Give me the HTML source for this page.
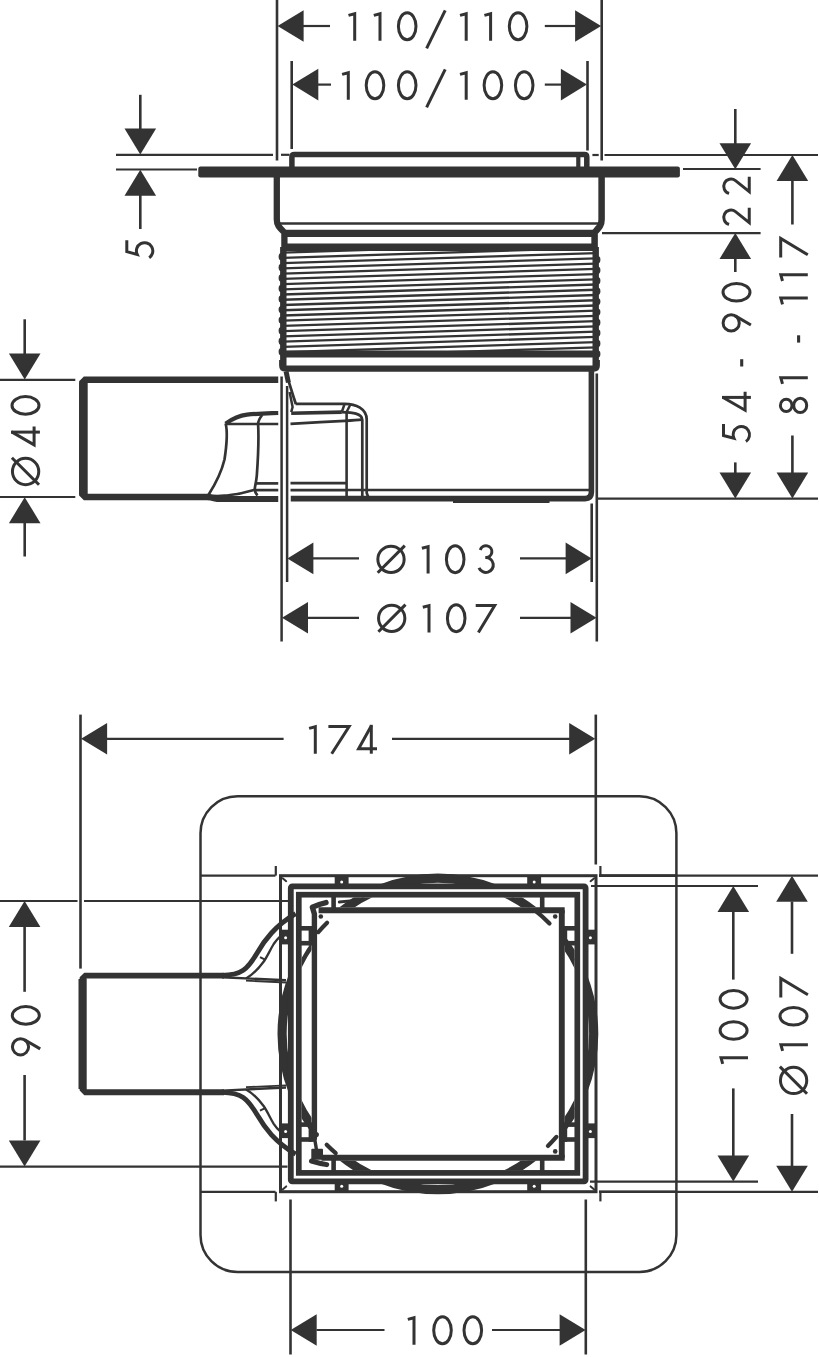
<!DOCTYPE html>
<html><head><meta charset="utf-8"><title>Drawing</title>
<style>html,body{margin:0;padding:0;background:#fff;font-family:"Liberation Sans",sans-serif;}svg{display:block}</style>
</head><body>
<svg width="819" height="1357" viewBox="0 0 819 1357" stroke="#333" fill="none">
<rect x="0" y="0" width="819" height="1357" fill="#fff" stroke="none"/>
<line x1="277.00" y1="0.00" x2="277.00" y2="160.50" stroke-width="2.6" stroke-linecap="butt" />
<line x1="601.70" y1="0.00" x2="601.70" y2="160.50" stroke-width="2.6" stroke-linecap="butt" />
<line x1="291.70" y1="61.00" x2="291.70" y2="149.00" stroke-width="2.6" stroke-linecap="butt" />
<line x1="587.50" y1="61.00" x2="587.50" y2="150.50" stroke-width="2.6" stroke-linecap="butt" />
<polygon points="277.60,26.00 303.60,10.20 303.60,41.80" fill="#333" stroke="none"/>
<line x1="303.00" y1="26.00" x2="330.00" y2="26.00" stroke-width="2.2" stroke-linecap="butt" />
<line x1="544.80" y1="26.00" x2="576.00" y2="26.00" stroke-width="2.2" stroke-linecap="butt" />
<polygon points="601.10,26.00 575.10,10.20 575.10,41.80" fill="#333" stroke="none"/>
<polygon points="292.30,84.60 318.30,68.80 318.30,100.40" fill="#333" stroke="none"/>
<line x1="318.00" y1="84.60" x2="331.00" y2="84.60" stroke-width="2.2" stroke-linecap="butt" />
<line x1="544.80" y1="84.60" x2="562.00" y2="84.60" stroke-width="2.2" stroke-linecap="butt" />
<polygon points="586.90,84.60 560.90,68.80 560.90,100.40" fill="#333" stroke="none"/>
<g transform="translate(0.00,40.70) rotate(0)" stroke-width="3.0" fill="none" stroke-linejoin="miter" stroke-linecap="butt">
<g transform="translate(348.70,0)"><path d="M-0.2,-25.3 L6,-27 V0"/></g>
<g transform="translate(374.00,0)"><path d="M-0.2,-25.3 L6,-27 V0"/></g>
<g transform="translate(398.20,0)"><ellipse cx="9.0" cy="-14.4" rx="8.8" ry="13.5"/></g>
<g transform="translate(426.90,0)"><path d="M-0.3,7.6 L18.3,-30.3"/></g>
<g transform="translate(460.20,0)"><path d="M-0.2,-25.3 L6,-27 V0"/></g>
<g transform="translate(484.60,0)"><path d="M-0.2,-25.3 L6,-27 V0"/></g>
<g transform="translate(509.10,0)"><ellipse cx="9.0" cy="-14.4" rx="8.8" ry="13.5"/></g>
</g>
<g transform="translate(0.00,99.70) rotate(0)" stroke-width="3.0" fill="none" stroke-linejoin="miter" stroke-linecap="butt">
<g transform="translate(342.30,0)"><path d="M-0.2,-25.3 L6,-27 V0"/></g>
<g transform="translate(366.00,0)"><ellipse cx="9.0" cy="-14.4" rx="8.8" ry="13.5"/></g>
<g transform="translate(398.20,0)"><ellipse cx="9.0" cy="-14.4" rx="8.8" ry="13.5"/></g>
<g transform="translate(426.90,0)"><path d="M-0.3,7.6 L18.3,-30.3"/></g>
<g transform="translate(460.20,0)"><path d="M-0.2,-25.3 L6,-27 V0"/></g>
<g transform="translate(483.90,0)"><ellipse cx="9.0" cy="-14.4" rx="8.8" ry="13.5"/></g>
<g transform="translate(515.20,0)"><ellipse cx="9.0" cy="-14.4" rx="8.8" ry="13.5"/></g>
</g>
<line x1="116.00" y1="154.80" x2="273.00" y2="154.80" stroke-width="2.2" stroke-linecap="butt" />
<line x1="281.00" y1="154.80" x2="289.50" y2="154.80" stroke-width="2.2" stroke-linecap="butt" />
<line x1="116.00" y1="169.50" x2="197.00" y2="169.50" stroke-width="2.2" stroke-linecap="butt" />
<line x1="140.30" y1="94.80" x2="140.30" y2="129.00" stroke-width="2.6" stroke-linecap="butt" />
<polygon points="140.30,154.60 124.50,128.60 156.10,128.60" fill="#333" stroke="none"/>
<polygon points="140.30,169.70 124.50,195.70 156.10,195.70" fill="#333" stroke="none"/>
<line x1="140.30" y1="195.00" x2="140.30" y2="229.00" stroke-width="2.6" stroke-linecap="butt" />
<g transform="translate(154.20,259.30) rotate(-90)" stroke-width="3.0" fill="none" stroke-linejoin="miter" stroke-linecap="butt">
<g transform="translate(0.00,0)"><path d="M19.1,-27.4 H7.6 L4.9,-17 A8.2,8.2 0 1 1 1.6,-5.0"/></g>
</g>
<path d="M291.9,168 V157 Q291.9,154.6 294.5,154.6 H584.5 Q586.8,154.6 586.8,157 V168" stroke-width="5.5" fill="none" stroke-linecap="butt" stroke-linejoin="miter" />
<line x1="578.30" y1="155.00" x2="578.30" y2="168.00" stroke-width="4.2" stroke-linecap="butt" />
<rect x="198.3" y="166.5" width="481.59999999999997" height="10.9" rx="2.2" fill="#333" stroke="none"/>
<path d="M276.8,175 V219.5 C276.8,225 279,227 284.4,232.5 V250" stroke-width="6.3" fill="none" stroke-linecap="butt" stroke-linejoin="miter" />
<path d="M601.6,175 V219.5 C601.6,225 599.5,227 594.6,232.5 V250" stroke-width="6.5" fill="none" stroke-linecap="butt" stroke-linejoin="miter" />
<line x1="279.00" y1="223.60" x2="600.00" y2="223.60" stroke-width="2.5" stroke-linecap="butt" />
<line x1="283.00" y1="233.30" x2="596.00" y2="233.30" stroke-width="7.2" stroke-linecap="butt" />
<line x1="283.00" y1="247.30" x2="596.00" y2="247.30" stroke-width="7.6" stroke-linecap="butt" />
<clipPath id="thr"><rect x="283" y="250.5" width="313" height="100.5"/></clipPath>
<g clip-path="url(#thr)">
<line x1="283.00" y1="247.36" x2="596.00" y2="237.36" stroke-width="2.3" stroke-linecap="butt" />
<line x1="283.00" y1="252.60" x2="596.00" y2="242.60" stroke-width="2.3" stroke-linecap="butt" />
<line x1="283.00" y1="257.84" x2="596.00" y2="247.84" stroke-width="2.3" stroke-linecap="butt" />
<line x1="283.00" y1="263.08" x2="596.00" y2="253.08" stroke-width="2.3" stroke-linecap="butt" />
<line x1="283.00" y1="268.32" x2="596.00" y2="258.32" stroke-width="2.3" stroke-linecap="butt" />
<line x1="283.00" y1="273.56" x2="596.00" y2="263.56" stroke-width="2.3" stroke-linecap="butt" />
<line x1="283.00" y1="278.80" x2="596.00" y2="268.80" stroke-width="2.3" stroke-linecap="butt" />
<line x1="283.00" y1="284.04" x2="596.00" y2="274.04" stroke-width="2.3" stroke-linecap="butt" />
<line x1="283.00" y1="289.28" x2="596.00" y2="279.28" stroke-width="2.3" stroke-linecap="butt" />
<line x1="283.00" y1="294.52" x2="596.00" y2="284.52" stroke-width="2.3" stroke-linecap="butt" />
<line x1="283.00" y1="299.76" x2="596.00" y2="289.76" stroke-width="2.3" stroke-linecap="butt" />
<line x1="283.00" y1="305.00" x2="596.00" y2="295.00" stroke-width="2.3" stroke-linecap="butt" />
<line x1="283.00" y1="310.24" x2="596.00" y2="300.24" stroke-width="2.3" stroke-linecap="butt" />
<line x1="283.00" y1="315.48" x2="596.00" y2="305.48" stroke-width="2.3" stroke-linecap="butt" />
<line x1="283.00" y1="320.72" x2="596.00" y2="310.72" stroke-width="2.3" stroke-linecap="butt" />
<line x1="283.00" y1="325.96" x2="596.00" y2="315.96" stroke-width="2.3" stroke-linecap="butt" />
<line x1="283.00" y1="331.20" x2="596.00" y2="321.20" stroke-width="2.3" stroke-linecap="butt" />
<line x1="283.00" y1="336.44" x2="596.00" y2="326.44" stroke-width="2.3" stroke-linecap="butt" />
<line x1="283.00" y1="341.68" x2="596.00" y2="331.68" stroke-width="2.3" stroke-linecap="butt" />
<line x1="283.00" y1="346.92" x2="596.00" y2="336.92" stroke-width="2.3" stroke-linecap="butt" />
<line x1="283.00" y1="352.16" x2="596.00" y2="342.16" stroke-width="2.3" stroke-linecap="butt" />
<line x1="283.00" y1="357.40" x2="596.00" y2="347.40" stroke-width="2.3" stroke-linecap="butt" />
<line x1="283.00" y1="362.64" x2="596.00" y2="352.64" stroke-width="2.3" stroke-linecap="butt" />
<line x1="283.00" y1="367.88" x2="596.00" y2="357.88" stroke-width="2.3" stroke-linecap="butt" />
</g>
<line x1="283.30" y1="247.00" x2="283.30" y2="366.00" stroke-width="6.4" stroke-linecap="butt" />
<line x1="595.70" y1="247.00" x2="595.70" y2="366.00" stroke-width="6.4" stroke-linecap="butt" />
<ellipse cx="281.3" cy="256.8" rx="2.7" ry="3.7" fill="#333" stroke="none"/>
<ellipse cx="597.7" cy="259.8" rx="2.7" ry="3.7" fill="#333" stroke="none"/>
<ellipse cx="281.3" cy="267.4" rx="2.7" ry="3.7" fill="#333" stroke="none"/>
<ellipse cx="597.7" cy="270.2" rx="2.7" ry="3.7" fill="#333" stroke="none"/>
<ellipse cx="281.3" cy="277.9" rx="2.7" ry="3.7" fill="#333" stroke="none"/>
<ellipse cx="597.7" cy="280.7" rx="2.7" ry="3.7" fill="#333" stroke="none"/>
<ellipse cx="281.3" cy="288.4" rx="2.7" ry="3.7" fill="#333" stroke="none"/>
<ellipse cx="597.7" cy="291.2" rx="2.7" ry="3.7" fill="#333" stroke="none"/>
<ellipse cx="281.3" cy="299.0" rx="2.7" ry="3.7" fill="#333" stroke="none"/>
<ellipse cx="597.7" cy="301.6" rx="2.7" ry="3.7" fill="#333" stroke="none"/>
<ellipse cx="281.3" cy="309.6" rx="2.7" ry="3.7" fill="#333" stroke="none"/>
<ellipse cx="597.7" cy="312.1" rx="2.7" ry="3.7" fill="#333" stroke="none"/>
<ellipse cx="281.3" cy="320.1" rx="2.7" ry="3.7" fill="#333" stroke="none"/>
<ellipse cx="597.7" cy="322.5" rx="2.7" ry="3.7" fill="#333" stroke="none"/>
<ellipse cx="281.3" cy="330.7" rx="2.7" ry="3.7" fill="#333" stroke="none"/>
<ellipse cx="597.7" cy="332.9" rx="2.7" ry="3.7" fill="#333" stroke="none"/>
<ellipse cx="281.3" cy="341.2" rx="2.7" ry="3.7" fill="#333" stroke="none"/>
<ellipse cx="597.7" cy="343.4" rx="2.7" ry="3.7" fill="#333" stroke="none"/>
<ellipse cx="281.3" cy="351.8" rx="2.7" ry="3.7" fill="#333" stroke="none"/>
<ellipse cx="597.7" cy="353.9" rx="2.7" ry="3.7" fill="#333" stroke="none"/>
<line x1="283.00" y1="354.00" x2="596.00" y2="354.00" stroke-width="7" stroke-linecap="butt" />
<path d="M282.2,360 V365.6 Q282.2,368.7 285.5,368.7 H593.5 Q596.8,368.7 596.8,365.6 V360" stroke-width="6.2" fill="none" stroke-linecap="butt" stroke-linejoin="miter" />
<path d="M591.4,369 V492 Q591.4,498.6 585,498.6 H290.6" stroke-width="5.6" fill="none" stroke-linecap="butt" stroke-linejoin="miter" />
<line x1="346.50" y1="490.10" x2="590.00" y2="490.10" stroke-width="2.5" stroke-linecap="butt" />
<line x1="453.00" y1="501.60" x2="549.50" y2="501.60" stroke-width="3" stroke-linecap="butt" />
<path d="M278.3,379.8 H85.2 L82.3,382.7 V494.1 L85.2,497 H209" stroke-width="6.4" fill="none" stroke-linecap="butt" stroke-linejoin="miter" />
<line x1="83.40" y1="382.40" x2="83.40" y2="494.40" stroke-width="8.6" stroke-linecap="butt" />
<path d="M207,497.1 C211,497.1 213,498.9 217,498.9 H278.3" stroke-width="6" fill="none" stroke-linecap="butt" stroke-linejoin="miter" />
<path d="M225.6,423.6 C232,419 238,415.6 247,414.6 C258,413.6 268,413.4 278.3,413" stroke-width="4.2" fill="none" stroke-linecap="butt" stroke-linejoin="miter" />
<line x1="225.60" y1="423.90" x2="278.30" y2="423.90" stroke-width="2.5" stroke-linecap="butt" />
<path d="M225.6,423.5 C227.6,431 227.5,440 224.5,459.5 C222,470 218,480 208.4,495" stroke-width="2.7" fill="none" stroke-linecap="butt" stroke-linejoin="miter" />
<path d="M262.2,415 C259,419 258.1,421 258.1,424 C258.8,436 258.8,448 256.8,475.6 C256,484 254.6,487 254.8,489.3 C255,492 256,494 257.5,495.5" stroke-width="2.7" fill="none" stroke-linecap="butt" stroke-linejoin="miter" />
<path d="M208.4,495 C214,496.6 220,496.2 224.5,495.7 C230,495.2 236,494.2 239.3,493.7 L254.8,489.7" stroke-width="2.7" fill="none" stroke-linecap="butt" stroke-linejoin="miter" />
<line x1="255.40" y1="483.40" x2="278.30" y2="483.40" stroke-width="2.7" stroke-linecap="butt" />
<line x1="255.40" y1="490.10" x2="278.30" y2="490.10" stroke-width="2.7" stroke-linecap="butt" />
<rect x="278.8" y="373" width="11.6" height="131" fill="#fff" stroke="none"/>
<line x1="281.60" y1="376.50" x2="281.60" y2="641.50" stroke-width="2.5" stroke-linecap="butt" />
<line x1="287.10" y1="386.00" x2="287.10" y2="582.00" stroke-width="2.5" stroke-linecap="butt" />
<line x1="596.80" y1="373.50" x2="596.80" y2="641.50" stroke-width="2.6" stroke-linecap="butt" />
<line x1="591.70" y1="503.50" x2="591.70" y2="582.00" stroke-width="2.6" stroke-linecap="butt" />
<path d="M286.1,371.5 L288.4,382.5" stroke-width="5" fill="none" stroke-linecap="butt" stroke-linejoin="miter" />
<path d="M287.6,378 L295.8,404" stroke-width="2.7" fill="none" stroke-linecap="butt" stroke-linejoin="miter" />
<path d="M289.6,392 L292.6,407 L291.2,412" stroke-width="2.5" fill="none" stroke-linecap="butt" stroke-linejoin="miter" />
<path d="M295.5,403.8 H344.7 C356,403.8 366.7,409 366.7,419.5 V493 L368,496.5" stroke-width="2.7" fill="none" stroke-linecap="butt" stroke-linejoin="miter" />
<path d="M291.2,413.3 L341.8,412.1" stroke-width="3.6" fill="none" stroke-linecap="butt" stroke-linejoin="miter" />
<path d="M341.8,412.1 C352,412.5 362.3,413 362.3,420 V496" stroke-width="2.7" fill="none" stroke-linecap="butt" stroke-linejoin="miter" />
<line x1="344.70" y1="403.70" x2="341.80" y2="412.00" stroke-width="2.5" stroke-linecap="butt" />
<line x1="350.30" y1="404.70" x2="346.20" y2="412.70" stroke-width="2.5" stroke-linecap="butt" />
<path d="M290.5,423.8 C305,423 328.6,421.6 345,420.8 C352,420.4 358,420 362,419.6" stroke-width="2.7" fill="none" stroke-linecap="butt" stroke-linejoin="miter" />
<line x1="346.60" y1="412.70" x2="346.60" y2="496.00" stroke-width="2.6" stroke-linecap="butt" />
<line x1="290.50" y1="483.20" x2="346.60" y2="483.20" stroke-width="2.7" stroke-linecap="butt" />
<line x1="290.50" y1="490.10" x2="346.60" y2="490.10" stroke-width="2.7" stroke-linecap="butt" />
<polygon points="287.40,558.40 313.40,542.60 313.40,574.20" fill="#333" stroke="none"/>
<line x1="313.00" y1="558.40" x2="359.00" y2="558.40" stroke-width="2.2" stroke-linecap="butt" />
<line x1="520.00" y1="558.40" x2="566.00" y2="558.40" stroke-width="2.2" stroke-linecap="butt" />
<polygon points="591.60,558.40 565.60,542.60 565.60,574.20" fill="#333" stroke="none"/>
<polygon points="282.00,617.80 308.00,602.00 308.00,633.60" fill="#333" stroke="none"/>
<line x1="307.50" y1="617.80" x2="359.00" y2="617.80" stroke-width="2.2" stroke-linecap="butt" />
<line x1="520.00" y1="617.80" x2="571.00" y2="617.80" stroke-width="2.2" stroke-linecap="butt" />
<polygon points="596.50,617.80 570.50,602.00 570.50,633.60" fill="#333" stroke="none"/>
<g transform="translate(0.00,573.60) rotate(0)" stroke-width="3.0" fill="none" stroke-linejoin="miter" stroke-linecap="butt">
<g transform="translate(377.40,0)"><circle cx="13.6" cy="-14.3" r="13.15"/><path d="M0.3,-0.9 L27.4,-28"/></g>
<g transform="translate(422.10,0)"><path d="M-0.2,-25.3 L6,-27 V0"/></g>
<g transform="translate(446.20,0)"><ellipse cx="9.0" cy="-14.4" rx="8.8" ry="13.5"/></g>
<g transform="translate(477.10,0)"><path d="M3.2,-23.6 A5.9,5.9 0 1 1 8.3,-16.1 A7.45,7.45 0 1 1 1.9,-5.7"/></g>
</g>
<g transform="translate(0.00,632.60) rotate(0)" stroke-width="3.0" fill="none" stroke-linejoin="miter" stroke-linecap="butt">
<g transform="translate(378.10,0)"><circle cx="13.6" cy="-14.3" r="13.15"/><path d="M0.3,-0.9 L27.4,-28"/></g>
<g transform="translate(423.00,0)"><path d="M-0.2,-25.3 L6,-27 V0"/></g>
<g transform="translate(447.20,0)"><ellipse cx="9.0" cy="-14.4" rx="8.8" ry="13.5"/></g>
<g transform="translate(475.70,0)"><path d="M0,-27.1 H19.0 L2.7,0"/></g>
</g>
<line x1="0.00" y1="379.80" x2="75.30" y2="379.80" stroke-width="2.2" stroke-linecap="butt" />
<line x1="0.00" y1="497.00" x2="75.30" y2="497.00" stroke-width="2.2" stroke-linecap="butt" />
<line x1="24.70" y1="319.30" x2="24.70" y2="354.00" stroke-width="2.6" stroke-linecap="butt" />
<polygon points="24.70,379.60 8.90,353.60 40.50,353.60" fill="#333" stroke="none"/>
<polygon points="24.70,497.20 8.90,523.20 40.50,523.20" fill="#333" stroke="none"/>
<line x1="24.70" y1="523.00" x2="24.70" y2="556.50" stroke-width="2.6" stroke-linecap="butt" />
<g transform="translate(39.90,485.10) rotate(-90)" stroke-width="3.0" fill="none" stroke-linejoin="miter" stroke-linecap="butt">
<g transform="translate(0.00,0)"><circle cx="13.6" cy="-14.3" r="13.15"/><path d="M0.3,-0.9 L27.4,-28"/></g>
<g transform="translate(37.30,0)"><path d="M21.3,-5.8 H2.9 L15.9,-28.2"/><path d="M15.7,0 V-28.9"/></g>
<g transform="translate(70.70,0)"><ellipse cx="9.0" cy="-14.4" rx="8.8" ry="13.5"/></g>
</g>
<line x1="592.40" y1="155.00" x2="598.70" y2="155.00" stroke-width="2.2" stroke-linecap="butt" />
<line x1="604.50" y1="155.00" x2="818.00" y2="155.00" stroke-width="2.2" stroke-linecap="butt" />
<line x1="683.00" y1="169.00" x2="760.60" y2="169.00" stroke-width="2.2" stroke-linecap="butt" />
<line x1="602.00" y1="233.20" x2="760.60" y2="233.20" stroke-width="2.2" stroke-linecap="butt" />
<line x1="597.00" y1="498.60" x2="818.00" y2="498.60" stroke-width="2.2" stroke-linecap="butt" />
<line x1="735.30" y1="109.00" x2="735.30" y2="144.00" stroke-width="2.6" stroke-linecap="butt" />
<polygon points="735.30,169.20 719.50,143.20 751.10,143.20" fill="#333" stroke="none"/>
<polygon points="735.30,233.00 719.50,259.00 751.10,259.00" fill="#333" stroke="none"/>
<line x1="735.30" y1="258.50" x2="735.30" y2="272.00" stroke-width="2.6" stroke-linecap="butt" />
<line x1="735.30" y1="462.40" x2="735.30" y2="473.50" stroke-width="2.6" stroke-linecap="butt" />
<polygon points="735.30,498.60 719.50,472.60 751.10,472.60" fill="#333" stroke="none"/>
<polygon points="792.40,155.00 776.60,181.00 808.20,181.00" fill="#333" stroke="none"/>
<line x1="792.40" y1="180.50" x2="792.40" y2="224.50" stroke-width="2.6" stroke-linecap="butt" />
<line x1="792.40" y1="435.50" x2="792.40" y2="473.50" stroke-width="2.6" stroke-linecap="butt" />
<polygon points="792.40,498.60 776.60,472.60 808.20,472.60" fill="#333" stroke="none"/>
<g transform="translate(750.70,226.00) rotate(-90)" stroke-width="3.0" fill="none" stroke-linejoin="miter" stroke-linecap="butt">
<g transform="translate(0.00,0)"><path d="M1.6,-21.6 A7.3,7.3 0 1 1 14.4,-15.2 L3.4,-1.45 H18.3"/></g>
<g transform="translate(31.00,0)"><path d="M1.6,-21.6 A7.3,7.3 0 1 1 14.4,-15.2 L3.4,-1.45 H18.3"/></g>
</g>
<g transform="translate(750.90,443.10) rotate(-90)" stroke-width="3.0" fill="none" stroke-linejoin="miter" stroke-linecap="butt">
<g transform="translate(0.00,0)"><path d="M19.1,-27.4 H7.6 L4.9,-17 A8.2,8.2 0 1 1 1.6,-5.0"/></g>
<g transform="translate(30.00,0)"><path d="M21.3,-5.8 H2.9 L15.9,-28.2"/><path d="M15.7,0 V-28.9"/></g>
<g transform="translate(76.60,0)"><path d="M0,-9.2 H7.3" stroke-width="3.1"/></g>
<g transform="translate(112.10,0)"><circle cx="8.1" cy="-19.7" r="8.1"/><path d="M15.1,-15.65 L6.0,0"/></g>
<g transform="translate(141.80,0)"><ellipse cx="9.0" cy="-14.4" rx="8.8" ry="13.5"/></g>
</g>
<g transform="translate(807.80,414.50) rotate(-90)" stroke-width="3.0" fill="none" stroke-linejoin="miter" stroke-linecap="butt">
<g transform="translate(0.80,0)"><ellipse cx="8.3" cy="-21.6" rx="6.2" ry="5.8"/><ellipse cx="8.3" cy="-7.6" rx="7.1" ry="6.5"/></g>
<g transform="translate(30.80,0)"><path d="M-0.2,-25.3 L6,-27 V0"/></g>
<g transform="translate(71.90,0)"><path d="M0,-9.2 H7.3" stroke-width="3.1"/></g>
<g transform="translate(110.40,0)"><path d="M-0.2,-25.3 L6,-27 V0"/></g>
<g transform="translate(133.70,0)"><path d="M-0.2,-25.3 L6,-27 V0"/></g>
<g transform="translate(157.00,0)"><path d="M0,-27.1 H19.0 L2.7,0"/></g>
</g>
<line x1="80.50" y1="714.60" x2="80.50" y2="968.60" stroke-width="2.6" stroke-linecap="butt" />
<line x1="595.80" y1="714.60" x2="595.80" y2="864.50" stroke-width="2.6" stroke-linecap="butt" />
<polygon points="81.10,738.80 107.10,723.00 107.10,754.60" fill="#333" stroke="none"/>
<line x1="107.00" y1="738.80" x2="283.60" y2="738.80" stroke-width="2.2" stroke-linecap="butt" />
<line x1="392.00" y1="738.80" x2="570.00" y2="738.80" stroke-width="2.2" stroke-linecap="butt" />
<polygon points="595.20,738.80 569.20,723.00 569.20,754.60" fill="#333" stroke="none"/>
<g transform="translate(0.00,753.70) rotate(0)" stroke-width="3.0" fill="none" stroke-linejoin="miter" stroke-linecap="butt">
<g transform="translate(309.30,0)"><path d="M-0.2,-25.3 L6,-27 V0"/></g>
<g transform="translate(328.40,0)"><path d="M0,-27.1 H20.7 L3.3,0"/></g>
<g transform="translate(356.00,0)"><path d="M21.0,-4.9 H2.6 L15.5,-28.2"/><path d="M15.3,0 V-28.9"/></g>
</g>
<rect x="200.5" y="796.2" width="475.9" height="475.79999999999995" rx="37" ry="37" stroke-width="2.5"/>
<line x1="200.50" y1="875.60" x2="275.50" y2="875.60" stroke-width="2.2" stroke-linecap="butt" />
<line x1="599.00" y1="875.60" x2="818.00" y2="875.60" stroke-width="2.2" stroke-linecap="butt" />
<line x1="599.00" y1="875.60" x2="676.40" y2="875.60" stroke-width="2.6" stroke-linecap="butt" />
<line x1="275.80" y1="875.60" x2="275.80" y2="866.00" stroke-width="2.2" stroke-linecap="butt" />
<line x1="600.40" y1="875.60" x2="600.40" y2="866.00" stroke-width="2.2" stroke-linecap="butt" />
<line x1="200.50" y1="1191.80" x2="275.50" y2="1191.80" stroke-width="2.2" stroke-linecap="butt" />
<line x1="599.00" y1="1191.80" x2="818.00" y2="1191.80" stroke-width="2.2" stroke-linecap="butt" />
<line x1="599.00" y1="1191.80" x2="676.40" y2="1191.80" stroke-width="2.6" stroke-linecap="butt" />
<line x1="275.80" y1="1191.80" x2="275.80" y2="1201.40" stroke-width="2.2" stroke-linecap="butt" />
<line x1="600.40" y1="1191.80" x2="600.40" y2="1201.40" stroke-width="2.2" stroke-linecap="butt" />
<line x1="591.00" y1="886.00" x2="758.00" y2="886.00" stroke-width="2.2" stroke-linecap="butt" />
<line x1="590.00" y1="1181.70" x2="758.00" y2="1181.70" stroke-width="2.2" stroke-linecap="butt" />
<line x1="0.00" y1="901.00" x2="77.50" y2="901.00" stroke-width="2.2" stroke-linecap="butt" />
<line x1="84.00" y1="901.00" x2="288.00" y2="901.00" stroke-width="2.2" stroke-linecap="butt" />
<line x1="0.00" y1="1166.60" x2="287.50" y2="1166.60" stroke-width="2.2" stroke-linecap="butt" />
<line x1="24.60" y1="927.00" x2="24.60" y2="991.80" stroke-width="2.6" stroke-linecap="butt" />
<polygon points="24.60,901.10 8.80,927.10 40.40,927.10" fill="#333" stroke="none"/>
<line x1="24.60" y1="1075.00" x2="24.60" y2="1140.50" stroke-width="2.6" stroke-linecap="butt" />
<polygon points="24.60,1166.50 8.80,1140.50 40.40,1140.50" fill="#333" stroke="none"/>
<g transform="translate(40.20,1056.50) rotate(-90)" stroke-width="3.0" fill="none" stroke-linejoin="miter" stroke-linecap="butt">
<g transform="translate(1.60,0)"><circle cx="8.1" cy="-19.7" r="8.1"/><path d="M15.1,-15.65 L6.0,0"/></g>
<g transform="translate(32.10,0)"><ellipse cx="9.0" cy="-14.4" rx="8.8" ry="13.5"/></g>
</g>
<polygon points="733.30,886.10 717.50,912.10 749.10,912.10" fill="#333" stroke="none"/>
<line x1="733.30" y1="912.00" x2="733.30" y2="979.60" stroke-width="2.6" stroke-linecap="butt" />
<line x1="733.30" y1="1088.40" x2="733.30" y2="1156.00" stroke-width="2.6" stroke-linecap="butt" />
<polygon points="733.30,1181.60 717.50,1155.60 749.10,1155.60" fill="#333" stroke="none"/>
<polygon points="792.00,875.70 776.20,901.70 807.80,901.70" fill="#333" stroke="none"/>
<line x1="792.00" y1="901.50" x2="792.00" y2="953.80" stroke-width="2.6" stroke-linecap="butt" />
<line x1="792.00" y1="1114.00" x2="792.00" y2="1166.00" stroke-width="2.6" stroke-linecap="butt" />
<polygon points="792.00,1191.70 776.20,1165.70 807.80,1165.70" fill="#333" stroke="none"/>
<g transform="translate(748.00,1064.70) rotate(-90)" stroke-width="3.0" fill="none" stroke-linejoin="miter" stroke-linecap="butt">
<g transform="translate(1.00,0)"><path d="M-0.2,-25.3 L6,-27 V0"/></g>
<g transform="translate(25.15,0)"><ellipse cx="9.0" cy="-14.4" rx="8.8" ry="13.5"/></g>
<g transform="translate(56.35,0)"><ellipse cx="9.0" cy="-14.4" rx="8.8" ry="13.5"/></g>
</g>
<g transform="translate(807.90,1095.70) rotate(-90)" stroke-width="3.0" fill="none" stroke-linejoin="miter" stroke-linecap="butt">
<g transform="translate(1.65,0)"><circle cx="13.6" cy="-14.3" r="13.15"/><path d="M0.3,-0.9 L27.4,-28"/></g>
<g transform="translate(45.00,0)"><path d="M-0.2,-25.3 L6,-27 V0"/></g>
<g transform="translate(70.45,0)"><ellipse cx="9.0" cy="-14.4" rx="8.8" ry="13.5"/></g>
<g transform="translate(98.20,0)"><path d="M0,-27.1 H19.0 L2.7,0"/></g>
</g>
<line x1="290.50" y1="1199.50" x2="290.50" y2="1354.50" stroke-width="2.6" stroke-linecap="butt" />
<line x1="585.80" y1="1199.50" x2="585.80" y2="1354.50" stroke-width="2.6" stroke-linecap="butt" />
<polygon points="290.70,1330.00 316.70,1314.20 316.70,1345.80" fill="#333" stroke="none"/>
<line x1="316.50" y1="1330.00" x2="384.50" y2="1330.00" stroke-width="2.2" stroke-linecap="butt" />
<line x1="492.00" y1="1330.00" x2="560.00" y2="1330.00" stroke-width="2.2" stroke-linecap="butt" />
<polygon points="585.60,1330.00 559.60,1314.20 559.60,1345.80" fill="#333" stroke="none"/>
<g transform="translate(0.00,1344.70) rotate(0)" stroke-width="3.0" fill="none" stroke-linejoin="miter" stroke-linecap="butt">
<g transform="translate(408.00,0)"><path d="M-0.2,-25.3 L6,-27 V0"/></g>
<g transform="translate(433.50,0)"><ellipse cx="9.0" cy="-14.4" rx="8.8" ry="13.5"/></g>
<g transform="translate(463.80,0)"><ellipse cx="9.0" cy="-14.4" rx="8.8" ry="13.5"/></g>
</g>
<path d="M224,975.6 H85.5 L82.6,978.5 V1089.3 L85.5,1092.2 H224" stroke-width="5.9" fill="none" stroke-linecap="butt" stroke-linejoin="miter" />
<line x1="82.60" y1="979.00" x2="82.60" y2="1089.00" stroke-width="8.2" stroke-linecap="butt" />
<path d="M222.0,975.4 C233.0,975.2 239.0,973.2 243.2,970.3 C248.2,966.8 253.0,960.0 257.3,952.7 C261.0,946.3 266.0,939.0 271.5,933.0 C277.0,927.0 285.0,920.0 295.7,913.7" stroke-width="4.9" fill="none" stroke-linecap="butt" stroke-linejoin="miter" />
<path d="M246.0,978.4 C252.5,975.0 259.0,968.0 263.8,961.5 C267.0,957.0 270.0,950.0 273.7,944.0 C275.5,941.3 277.0,939.3 280.0,936.6" stroke-width="2.3" fill="none" stroke-linecap="butt" stroke-linejoin="miter" />
<line x1="260.00" y1="957.10" x2="264.60" y2="959.40" stroke-width="2" stroke-linecap="butt" />
<path d="M222.0,977.2 L286.0,980.3" stroke-width="2.4" fill="none" stroke-linecap="butt" stroke-linejoin="miter" />
<path d="M246.0,980.6 L286.0,982.5" stroke-width="1.8" fill="none" stroke-linecap="butt" stroke-linejoin="miter" />
<path d="M222.0,1092.4 C233.0,1092.6 239.0,1094.6 243.2,1097.5 C248.2,1101.0 253.0,1107.8 257.3,1115.1 C261.0,1121.5 266.0,1128.8 271.5,1134.8 C277.0,1140.8 285.0,1147.8 295.7,1154.1" stroke-width="4.9" fill="none" stroke-linecap="butt" stroke-linejoin="miter" />
<path d="M246.0,1089.4 C252.5,1092.8 259.0,1099.8 263.8,1106.3 C267.0,1110.8 270.0,1117.8 273.7,1123.8 C275.5,1126.5 277.0,1128.5 280.0,1131.2" stroke-width="2.3" fill="none" stroke-linecap="butt" stroke-linejoin="miter" />
<line x1="260.00" y1="1110.70" x2="264.60" y2="1108.40" stroke-width="2" stroke-linecap="butt" />
<path d="M222.0,1090.6 L286.0,1087.5" stroke-width="2.4" fill="none" stroke-linecap="butt" stroke-linejoin="miter" />
<path d="M246.0,1087.2 L286.0,1085.3" stroke-width="1.8" fill="none" stroke-linecap="butt" stroke-linejoin="miter" />
<clipPath id="outsq"><path clip-rule="evenodd" d="M0,690 H819 V1357 H0 Z M314.5,910.2 V1157.5 H561.5 V910.2 Z"/></clipPath>
<clipPath id="outfr"><path clip-rule="evenodd" d="M0,690 H819 V1357 H0 Z M290.8,886.5 V1181.2 H585.7 V886.5 Z"/></clipPath>
<clipPath id="gapall"><path clip-rule="evenodd" d="M301.65,897.55 H574.45 V1170.1 H301.65 Z M311.5,907.3 V1160.7 H564.7 V907.3 Z"/></clipPath>
<g clip-path="url(#gapall)"><circle cx="437.9" cy="1033.9" r="153.8" stroke-width="4.5"/></g>
<g clip-path="url(#outfr)"><circle cx="437.9" cy="1033.9" r="155.8" stroke-width="9.2"/></g>
<clipPath id="gap"><rect x="301.65" y="897.55" width="272.8" height="9.8"/><rect x="301.65" y="1160.6" width="272.8" height="9.5"/><rect x="301.65" y="1033" width="9.9" height="128"/><rect x="564.6" y="907" width="9.9" height="254"/></clipPath>
<g clip-path="url(#gap)"><circle cx="437.9" cy="1033.9" r="157.8" stroke-width="5.2"/></g>
<path d="M318.3,932.1 A157,157 0 0 1 327.1,922.7" stroke-width="4.2" fill="none" stroke-linecap="round" stroke-linejoin="miter" />
<path d="M534.6,910.2 A157,157 0 0 1 549.5,923.5" stroke-width="4.2" fill="none" stroke-linecap="round" stroke-linejoin="miter" />
<path d="M335.7,1153.1 A157,157 0 0 1 326.7,1144.7" stroke-width="4.2" fill="none" stroke-linecap="round" stroke-linejoin="miter" />
<path d="M556.4,1136.9 A157,157 0 0 1 547.9,1145.9" stroke-width="4.2" fill="none" stroke-linecap="round" stroke-linejoin="miter" />
<rect x="280.5" y="875.7" width="315.50" height="316.00" rx="0" stroke-width="3.0"/>
<rect x="290.8" y="886.4" width="294.80" height="294.90" rx="1.5" stroke-width="5.8"/>
<rect x="298.8" y="894.7" width="278.50" height="278.20" rx="0" stroke-width="5.7"/>
<line x1="318.60" y1="910.30" x2="564.70" y2="910.30" stroke-width="6" stroke-linecap="butt" />
<line x1="321.50" y1="1157.80" x2="564.70" y2="1157.80" stroke-width="6" stroke-linecap="butt" />
<line x1="561.80" y1="910.30" x2="561.80" y2="1157.80" stroke-width="5.9" stroke-linecap="butt" />
<path d="M314.4,1138 V914 L312.4,907.2 C317,905 322,903.4 326,902.6" stroke-width="5.4" fill="none" stroke-linecap="round" stroke-linejoin="round" />
<path d="M314.4,1137 L316.5,1150" stroke-width="3.4" fill="none" stroke-linecap="butt" stroke-linejoin="miter" />
<circle cx="320.8" cy="916.5" r="2.3" fill="#333" stroke="none"/>
<circle cx="555.2" cy="916.5" r="2.3" fill="#333" stroke="none"/>
<circle cx="555.2" cy="1151.4" r="2.3" fill="#333" stroke="none"/>
<circle cx="316.3" cy="1134.5" r="2.6" fill="#333" stroke="none"/>
<rect x="334.7" y="875.6" width="13.9" height="11.0" fill="#333" stroke="none"/>
<circle cx="341.7" cy="882.1" r="1.5" fill="#fff" stroke="none"/>
<rect x="334.7" y="1181.2" width="13.9" height="10.6" fill="#333" stroke="none"/>
<circle cx="341.7" cy="1186.2" r="1.5" fill="#fff" stroke="none"/>
<rect x="527.2" y="875.6" width="13.9" height="11.0" fill="#333" stroke="none"/>
<circle cx="534.2" cy="882.1" r="1.5" fill="#fff" stroke="none"/>
<rect x="527.2" y="1181.2" width="13.9" height="10.6" fill="#333" stroke="none"/>
<circle cx="534.2" cy="1186.2" r="1.5" fill="#fff" stroke="none"/>
<rect x="280.5" y="929.7" width="10.3" height="14.7" fill="#333" stroke="none"/>
<circle cx="285.6" cy="937.7" r="1.5" fill="#fff" stroke="none"/>
<rect x="585.7" y="929.7" width="10.3" height="14.7" fill="#333" stroke="none"/>
<circle cx="590.4" cy="937.7" r="1.5" fill="#fff" stroke="none"/>
<rect x="280.5" y="1123.4" width="10.3" height="14.7" fill="#333" stroke="none"/>
<circle cx="285.6" cy="1131.4" r="1.5" fill="#fff" stroke="none"/>
<rect x="585.7" y="1123.4" width="10.3" height="14.7" fill="#333" stroke="none"/>
<circle cx="590.4" cy="1131.4" r="1.5" fill="#fff" stroke="none"/>
<line x1="298.80" y1="928.30" x2="316.00" y2="928.30" stroke-width="4.6" stroke-linecap="butt" />
<line x1="298.80" y1="943.20" x2="311.00" y2="943.20" stroke-width="4.6" stroke-linecap="butt" />
<line x1="310.60" y1="926.00" x2="310.60" y2="945.50" stroke-width="4" stroke-linecap="butt" />
<line x1="333.60" y1="894.60" x2="333.60" y2="910.20" stroke-width="4.6" stroke-linecap="butt" />
<line x1="577.00" y1="928.30" x2="559.80" y2="928.30" stroke-width="4.6" stroke-linecap="butt" />
<line x1="577.00" y1="943.20" x2="564.80" y2="943.20" stroke-width="4.6" stroke-linecap="butt" />
<line x1="565.20" y1="926.00" x2="565.20" y2="945.50" stroke-width="4" stroke-linecap="butt" />
<line x1="542.20" y1="894.60" x2="542.20" y2="910.20" stroke-width="4.6" stroke-linecap="butt" />
<line x1="298.80" y1="1139.50" x2="316.00" y2="1139.50" stroke-width="4.6" stroke-linecap="butt" />
<line x1="298.80" y1="1124.60" x2="311.00" y2="1124.60" stroke-width="4.6" stroke-linecap="butt" />
<line x1="310.60" y1="1141.80" x2="310.60" y2="1122.30" stroke-width="4" stroke-linecap="butt" />
<line x1="333.60" y1="1173.20" x2="333.60" y2="1157.60" stroke-width="4.6" stroke-linecap="butt" />
<line x1="577.00" y1="1139.50" x2="559.80" y2="1139.50" stroke-width="4.6" stroke-linecap="butt" />
<line x1="577.00" y1="1124.60" x2="564.80" y2="1124.60" stroke-width="4.6" stroke-linecap="butt" />
<line x1="565.20" y1="1141.80" x2="565.20" y2="1122.30" stroke-width="4" stroke-linecap="butt" />
<line x1="542.20" y1="1173.20" x2="542.20" y2="1157.60" stroke-width="4.6" stroke-linecap="butt" />
<path d="M311.5,1161 C316,1162.4 321,1163.6 326.7,1164.6" stroke-width="5" fill="none" stroke-linecap="round" stroke-linejoin="miter" />
<rect x="311.3" y="1148.8" width="11.7" height="11" rx="1" fill="#333" stroke="none"/>
<path d="M339.3,902 L353,900.6" stroke-width="2.9" fill="none" stroke-linecap="round" stroke-linejoin="miter" />
<line x1="282.60" y1="878.20" x2="286.20" y2="881.20" stroke-width="2.0" stroke-linecap="round" />
<line x1="594.20" y1="878.20" x2="590.60" y2="881.20" stroke-width="2.0" stroke-linecap="round" />
<line x1="282.60" y1="1189.40" x2="286.20" y2="1186.40" stroke-width="2.0" stroke-linecap="round" />
<line x1="594.20" y1="1189.40" x2="590.60" y2="1186.40" stroke-width="2.0" stroke-linecap="round" />
</svg>
</body></html>
